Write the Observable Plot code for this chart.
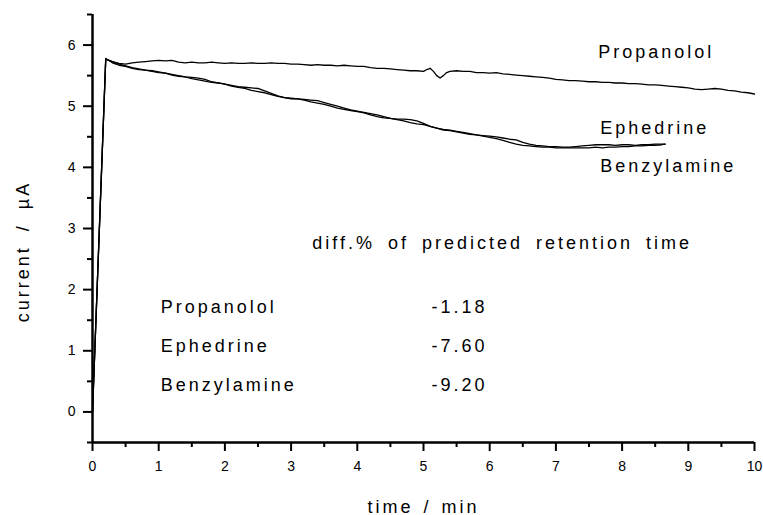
<!DOCTYPE html>
<html><head><meta charset="utf-8">
<script src="https://cdn.jsdelivr.net/npm/d3@7"></script>
<script src="https://cdn.jsdelivr.net/npm/@observablehq/plot@0.6"></script>
<style>
body{margin:0;background:#fff}
#chart svg{display:block}
</style></head><body><div id="chart"></div>
<script>
// ---- data ----
const seriesNames = ["Propanolol", "Ephedrine", "Benzylamine"];

const propTime = [0, 0.2, 0.3, 0.4, 0.5, 0.6, 0.7, 0.8, 0.9, 1.0, 1.1, 1.2, 1.3, 1.4, 1.5, 1.6, 1.7, 1.8, 1.9, 2.0,
  2.1, 2.2, 2.3, 2.4, 2.5, 2.6, 2.7, 2.8, 2.9, 3.0, 3.1, 3.2, 3.3, 3.4, 3.5, 3.6, 3.7, 3.8, 3.9, 4.0,
  4.1, 4.2, 4.3, 4.4, 4.5, 4.6, 4.7, 4.8, 4.9, 5.0, 5.05, 5.1, 5.15, 5.2, 5.25, 5.3, 5.35, 5.4, 5.5, 5.6,
  5.7, 5.8, 5.9, 6.0, 6.1, 6.2, 6.3, 6.4, 6.5, 6.6, 6.7, 6.8, 6.9, 7.0, 7.1, 7.2, 7.3, 7.4, 7.5, 7.6,
  7.7, 7.8, 7.9, 8.0, 8.1, 8.2, 8.3, 8.4, 8.5, 8.6, 8.7, 8.8, 8.9, 9.0, 9.1, 9.2, 9.3, 9.4, 9.5, 9.6,
  9.7, 9.8, 9.9, 10.0];
const propanolol = [0, 5.77, 5.73, 5.70, 5.69, 5.71, 5.72, 5.73, 5.74, 5.75, 5.74, 5.75, 5.72, 5.71, 5.72, 5.71, 5.71, 5.72, 5.71, 5.70,
  5.71, 5.70, 5.70, 5.71, 5.70, 5.70, 5.71, 5.70, 5.70, 5.69, 5.69, 5.68, 5.67, 5.68, 5.67, 5.67, 5.66, 5.67, 5.66, 5.65,
  5.65, 5.63, 5.62, 5.62, 5.61, 5.60, 5.59, 5.58, 5.58, 5.57, 5.60, 5.62, 5.57, 5.50, 5.46, 5.50, 5.55, 5.57, 5.58, 5.57,
  5.57, 5.55, 5.55, 5.54, 5.55, 5.53, 5.52, 5.51, 5.50, 5.49, 5.48, 5.47, 5.46, 5.44, 5.43, 5.42, 5.42, 5.41, 5.40, 5.40,
  5.39, 5.39, 5.38, 5.38, 5.37, 5.37, 5.36, 5.35, 5.35, 5.34, 5.33, 5.32, 5.31, 5.30, 5.28, 5.27, 5.28, 5.29, 5.28, 5.26,
  5.25, 5.23, 5.22, 5.20];

const ebTime = [0,
  0.2, 0.3, 0.4, 0.5, 0.6, 0.7, 0.8, 0.9, 1.0, 1.1,
  1.2, 1.3, 1.4, 1.5, 1.6, 1.7, 1.8, 1.9, 2.0, 2.1,
  2.2, 2.3, 2.4, 2.5, 2.6, 2.7, 2.8, 2.9, 3.0, 3.1,
  3.2, 3.3, 3.4, 3.5, 3.6, 3.7, 3.8, 3.9, 4.0, 4.1,
  4.2, 4.3, 4.4, 4.5, 4.6, 4.7, 4.8, 4.9, 5.0, 5.1,
  5.2, 5.3, 5.4, 5.5, 5.6, 5.7, 5.8, 5.9, 6.0, 6.1,
  6.2, 6.3, 6.4, 6.5, 6.6, 6.7, 6.8, 6.9, 7.0, 7.1,
  7.2, 7.3, 7.4, 7.5, 7.6, 7.7, 7.8, 7.9, 8.0, 8.1,
  8.2, 8.3, 8.4, 8.5, 8.6, 8.65];
const ephedrine = [0,
  5.77, 5.73, 5.69, 5.66, 5.63, 5.61, 5.59, 5.58, 5.56, 5.54,
  5.52, 5.50, 5.48, 5.47, 5.46, 5.44, 5.40, 5.38, 5.36, 5.34,
  5.32, 5.31, 5.30, 5.29, 5.25, 5.21, 5.17, 5.14, 5.13, 5.12,
  5.11, 5.10, 5.09, 5.06, 5.03, 5.00, 4.97, 4.94, 4.92, 4.90,
  4.88, 4.86, 4.83, 4.80, 4.79, 4.79, 4.78, 4.76, 4.72, 4.67,
  4.64, 4.62, 4.61, 4.59, 4.57, 4.55, 4.53, 4.52, 4.51, 4.50,
  4.48, 4.46, 4.45, 4.41, 4.38, 4.36, 4.35, 4.34, 4.34, 4.33,
  4.33, 4.34, 4.35, 4.36, 4.37, 4.37, 4.37, 4.36, 4.37, 4.37,
  4.36, 4.37, 4.37, 4.38, 4.38, 4.38];
const benzylamine = [0,
  5.78, 5.71, 5.67, 5.65, 5.62, 5.60, 5.59, 5.57, 5.55, 5.54,
  5.51, 5.49, 5.48, 5.45, 5.43, 5.41, 5.39, 5.38, 5.36, 5.33,
  5.31, 5.29, 5.26, 5.24, 5.22, 5.19, 5.16, 5.14, 5.12, 5.12,
  5.10, 5.07, 5.05, 5.03, 5.00, 4.97, 4.95, 4.93, 4.91, 4.89,
  4.86, 4.83, 4.81, 4.80, 4.78, 4.76, 4.73, 4.71, 4.70, 4.67,
  4.64, 4.61, 4.60, 4.58, 4.56, 4.54, 4.53, 4.51, 4.49, 4.47,
  4.44, 4.41, 4.38, 4.36, 4.35, 4.34, 4.33, 4.33, 4.32, 4.32,
  4.32, 4.32, 4.32, 4.32, 4.33, 4.32, 4.33, 4.33, 4.34, 4.34,
  4.35, 4.35, 4.36, 4.36, 4.37, 4.38];

// axis ticks
const xMajor = [0, 1, 2, 3, 4, 5, 6, 7, 8, 9, 10];
const xMinor = [0.5, 1.5, 2.5, 3.5, 4.5, 5.5, 6.5, 7.5, 8.5, 9.5];
const yMajor = [0, 1, 2, 3, 4, 5, 6];
const yMinor = [-0.5, 0.5, 1.5, 2.5, 3.5, 4.5, 5.5, 6.5];

// texts
const xLabel = "time / min";
const yLabel = "current / \u00B5A";
const curveLabels = ["Propanolol", "Ephedrine", "Benzylamine"];
const tableTitle = "diff.% of predicted retention time";
const tableNames = ["Propanolol", "Ephedrine", "Benzylamine"];
const tableValues = ["-1.18", "-7.60", "-9.20"];

// annotation placement (data coordinates)
const curveLabelX = [7.64, 7.67, 7.67];
const curveLabelY = [5.79, 4.55, 3.92];
const tableTitlePos = [3.32, 2.67];
const tableNameX = 1.03;
const tableValueX = 5.12;
const tableRowY = [1.61, 0.98, 0.35];

// ---- build tables ----
const rows = [];
propTime.forEach((t, i) => rows.push({series: seriesNames[0], t, v: propanolol[i]}));
ebTime.forEach((t, i) => rows.push({series: seriesNames[1], t, v: ephedrine[i]}));
ebTime.forEach((t, i) => rows.push({series: seriesNames[2], t, v: benzylamine[i]}));

const annots = [];
curveLabels.forEach((s, i) => annots.push({text: s, x: curveLabelX[i], y: curveLabelY[i]}));
annots.push({text: tableTitle, x: tableTitlePos[0], y: tableTitlePos[1]});
tableNames.forEach((s, i) => annots.push({text: s, x: tableNameX, y: tableRowY[i]}));
tableValues.forEach((s, i) => annots.push({text: s, x: tableValueX, y: tableRowY[i]}));

const chart = Plot.plot({
  width: 763,
  height: 515,
  marginLeft: 92,
  marginRight: 9,
  marginTop: 14,
  marginBottom: 73,
  x: {domain: [0, 10]},
  y: {domain: [-0.5, 6.5]},
  style: {fontFamily: "'Liberation Sans', Arial, Helvetica, sans-serif", fontSize: "14px", color: "#000", background: "#fff"},
  marks: [
    Plot.line(rows, {x: "t", y: "v", z: "series", stroke: "#000", strokeWidth: 1.3}),
    Plot.axisX(xMinor, {tickSize: 5, strokeWidth: 2, tickFormat: () => "", label: null}),
    Plot.axisY(yMinor, {tickSize: 5, strokeWidth: 2, tickFormat: () => "", label: null}),
    Plot.axisX(xMajor, {tickSize: 9, tickPadding: 10, strokeWidth: 2, fontSize: 14, tickFormat: d => String(d), label: null}),
    Plot.axisY(yMajor, {tickSize: 9, tickPadding: 8, strokeWidth: 2, fontSize: 14, tickFormat: d => String(d), label: null}),
    Plot.ruleX([0], {strokeWidth: 2.5}),
    Plot.ruleY([-0.5], {strokeWidth: 2.5}),
    Plot.text(annots, {x: "x", y: "y", text: "text", textAnchor: "start", lineAnchor: "bottom", fontSize: 18}),
    Plot.text([xLabel], {text: d => d, frameAnchor: "bottom", textAnchor: "middle", dy: 70, lineAnchor: "bottom", fontSize: 18}),
    Plot.text([yLabel], {text: d => d, frameAnchor: "left", textAnchor: "middle", lineAnchor: "middle", rotate: -90, dx: -69, dy: 23, fontSize: 18})
  ]
});
// letter/word spacing for the annotation, x-label and y-label text marks (in mark order)
const textGroups = d3.select(chart).selectAll('g[aria-label="text"]').nodes();
const spacing = [["3px", "5px"], ["3px", "2px"], ["3px", "6px"]];
textGroups.forEach((g, i) => {
  const s = spacing[i] || spacing[0];
  d3.select(g).selectAll("text").style("letter-spacing", s[0]).style("word-spacing", s[1]);
});
document.getElementById("chart").appendChild(chart);
</script></body></html>
